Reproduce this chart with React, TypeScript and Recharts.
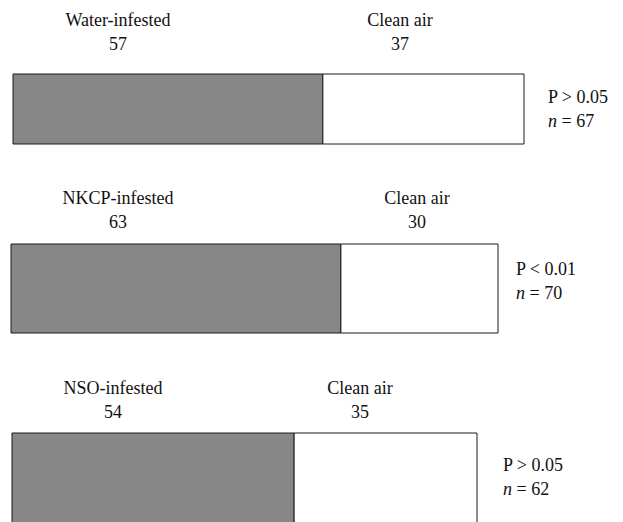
import React from 'react';
import { BarChart, Bar, XAxis, YAxis } from 'recharts';

// choice-test counts per odour source
const groups = ['Water-infested', 'NKCP-infested', 'NSO-infested'];
const infestedCounts = [57, 63, 54];
const cleanCounts = [37, 30, 35];
const pLabels = ['P > 0.05', 'P < 0.01', 'P > 0.05'];
const nValues = [67, 70, 62];

// layout of each panel (pixels)
const panels = [
  { x: 13, y: 74, w: 511, h: 70, leftX: 118, rightX: 400, labelY: 20, statX: 548, statY: 97 },
  { x: 11, y: 244, w: 487, h: 89, leftX: 118, rightX: 417, labelY: 198, statX: 516, statY: 269 },
  { x: 12, y: 433, w: 465, h: 100, leftX: 113, rightX: 360, labelY: 388, statX: 503, statY: 465 },
];

const font = '"Liberation Serif", "Times New Roman", serif';

const centered = (x: number, y: number): React.CSSProperties => ({
  position: 'absolute',
  left: x,
  top: y,
  transform: 'translate(-50%, -50%)',
  whiteSpace: 'nowrap',
});

const App: React.FC = () => {
  return (
    <div
      style={{
        position: 'absolute',
        left: 0,
        top: 0,
        width: 623,
        height: 522,
        overflow: 'hidden',
        background: '#fff',
        fontFamily: font,
        fontSize: 18,
        color: '#111',
      }}
    >
      {panels.map((p, i) => {
        const data = [{ name: groups[i], infested: infestedCounts[i], clean: cleanCounts[i] }];
        const total = infestedCounts[i] + cleanCounts[i];
        return (
          <React.Fragment key={groups[i]}>
            <div style={centered(p.leftX, p.labelY)}>{groups[i]}</div>
            <div style={centered(p.leftX, p.labelY + 24)}>{infestedCounts[i]}</div>
            <div style={centered(p.rightX, p.labelY)}>Clean air</div>
            <div style={centered(p.rightX, p.labelY + 24)}>{cleanCounts[i]}</div>

            <div style={{ position: 'absolute', left: p.x - 1, top: p.y - 1 }}>
              <BarChart
                width={p.w + 2}
                height={p.h + 2}
                data={data}
                layout="vertical"
                margin={{ top: 1, right: 1, bottom: 1, left: 1 }}
                barCategoryGap={0}
              >
                <XAxis type="number" domain={[0, total]} hide />
                <YAxis type="category" dataKey="name" hide />
                <Bar dataKey="infested" stackId="a" fill="#878787" stroke="#1a1a1a" strokeWidth={1} isAnimationActive={false} />
                <Bar dataKey="clean" stackId="a" fill="#ffffff" stroke="#1a1a1a" strokeWidth={1} isAnimationActive={false} />
              </BarChart>
            </div>

            <div style={{ position: 'absolute', left: p.statX, top: p.statY - 12, lineHeight: '24px' }}>
              <div>{pLabels[i]}</div>
              <div>
                <i>n</i> = {nValues[i]}
              </div>
            </div>
          </React.Fragment>
        );
      })}
    </div>
  );
};

export default App;
